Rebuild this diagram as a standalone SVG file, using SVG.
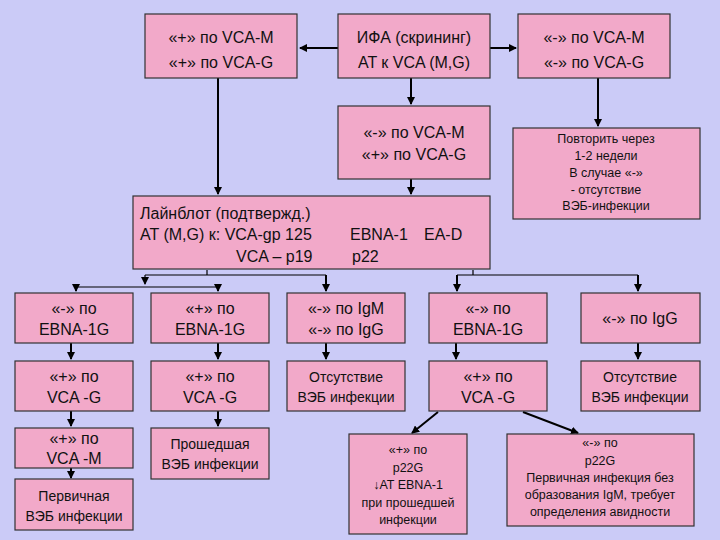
<svg xmlns="http://www.w3.org/2000/svg" width="720" height="540" viewBox="0 0 720 540">
<defs>
<marker id="ar" markerWidth="8" markerHeight="8" refX="7" refY="4" orient="auto" markerUnits="userSpaceOnUse"><path d="M0,0 L8,4 L0,8 Z" fill="#000"/></marker>
<style>
.b{fill:#f2a9c9;stroke:#333;stroke-width:1.2}
text{font-family:"Liberation Sans",Arial,sans-serif;fill:#111;text-anchor:middle}
.l{font-size:16px}.m{font-size:14px}.s{font-size:12.5px}
.c{fill:none;stroke:#000;stroke-width:2}
.t{fill:none;stroke:#000;stroke-width:1.2}
</style>
</defs>
<rect width="720" height="540" fill="#cbcbf7"/>
<g id="connectors">
<path class="c" d="M338,48 H300" marker-end="url(#ar)"/>
<path class="c" d="M490,48 H516" marker-end="url(#ar)"/>
<path class="c" d="M218,78 V194" marker-end="url(#ar)"/>
<path class="c" d="M411,78 V104" marker-end="url(#ar)"/>
<path class="c" d="M411,179 V194" marker-end="url(#ar)"/>
<path class="c" d="M598,78 V126" marker-end="url(#ar)"/>
<path class="t" d="M207,270 V275 M145,275 H326"/>
<path class="t" d="M145,275 V284" marker-end="url(#ar)"/>
<path class="t" d="M76,287 H218"/>
<path class="c" d="M76,287 V291" marker-end="url(#ar)"/>
<path class="c" d="M218,287 V291" marker-end="url(#ar)"/>
<path class="c" d="M326,275 V291" marker-end="url(#ar)"/>
<path class="t" d="M473,270 V275 M457,275 H638"/>
<path class="c" d="M457,275 V291" marker-end="url(#ar)"/>
<path class="c" d="M638,275 V291" marker-end="url(#ar)"/>
<path class="c" d="M71,343 V359" marker-end="url(#ar)"/>
<path class="c" d="M218,343 V359" marker-end="url(#ar)"/>
<path class="c" d="M326,343 V359" marker-end="url(#ar)"/>
<path class="c" d="M456,343 V359" marker-end="url(#ar)"/>
<path class="c" d="M638,343 V359" marker-end="url(#ar)"/>
<path class="c" d="M71,411 V426" marker-end="url(#ar)"/>
<path class="c" d="M218,411 V426" marker-end="url(#ar)"/>
<path class="c" d="M71,468 V478" marker-end="url(#ar)"/>
<path class="c" d="M438,412 L412,433" marker-end="url(#ar)"/>
<path class="c" d="M523,412 L578,433" marker-end="url(#ar)"/>
</g>
<g id="n1"><rect class="b" x="145" y="14" width="152" height="64"/><text class="l" x="221" y="43">«+» по VCA-M</text><text class="l" x="221" y="68">«+» по VCA-G</text></g>
<g id="n2"><rect class="b" x="338" y="14" width="152" height="64"/><text class="l" x="414" y="43">ИФА (скрининг)</text><text class="l" x="414" y="68">AT к VCA (M,G)</text></g>
<g id="n3"><rect class="b" x="518" y="14" width="152" height="64"/><text class="l" x="594" y="43">«-» по VCA-M</text><text class="l" x="594" y="68">«-» по VCA-G</text></g>
<g id="n4"><rect class="b" x="338" y="106" width="152" height="73"/><text class="l" x="414" y="138">«-» по VCA-M</text><text class="l" x="414" y="160">«+» по VCA-G</text></g>
<g id="n5"><rect class="b" x="513" y="128" width="187" height="91"/><text class="s" x="606" y="143">Повторить через</text><text class="s" x="606" y="160">1-2 недели</text><text class="s" x="606" y="177">В случае «-»</text><text class="s" x="606" y="194">- отсутствие</text><text class="s" x="606" y="210">ВЭБ-инфекции</text></g>
<g id="n6"><rect class="b" x="133" y="196" width="357" height="73"/><text class="l" x="140" y="219" style="text-anchor:start">Лайнблот (подтвержд.)</text><text class="l" x="140" y="240" style="text-anchor:start">AT (M,G) к: VCA-gp 125</text><text class="l" x="350" y="240" style="text-anchor:start">EBNA-1</text><text class="l" x="424" y="240" style="text-anchor:start">EA-D</text><text class="l" x="236" y="262" style="text-anchor:start">VCA – p19</text><text class="l" x="352" y="262" style="text-anchor:start">p22</text></g>
<g id="r1a"><rect class="b" x="15" y="293" width="118" height="50"/><text class="l" x="74" y="314">«-» по</text><text class="l" x="74" y="335">EBNA-1G</text></g>
<g id="r1b"><rect class="b" x="151" y="293" width="118" height="50"/><text class="l" x="210" y="314">«+» по</text><text class="l" x="210" y="335">EBNA-1G</text></g>
<g id="r1c"><rect class="b" x="287" y="293" width="118" height="50"/><text class="l" x="346" y="314">«-» по IgM</text><text class="l" x="346" y="335">«-» по IgG</text></g>
<g id="r1d"><rect class="b" x="429" y="293" width="118" height="50"/><text class="l" x="488" y="314">«-» по</text><text class="l" x="488" y="335">EBNA-1G</text></g>
<g id="r1e"><rect class="b" x="581" y="293" width="119" height="50"/><text class="l" x="640" y="324">«-» по IgG</text></g>
<g id="r2a"><rect class="b" x="15" y="361" width="118" height="50"/><text class="l" x="74" y="382">«+» по</text><text class="l" x="74" y="403">VCA -G</text></g>
<g id="r2b"><rect class="b" x="151" y="361" width="118" height="50"/><text class="l" x="210" y="382">«+» по</text><text class="l" x="210" y="403">VCA -G</text></g>
<g id="r2c"><rect class="b" x="287" y="361" width="118" height="50"/><text class="m" x="346" y="382">Отсутствие</text><text class="m" x="346" y="402">ВЭБ инфекции</text></g>
<g id="r2d"><rect class="b" x="429" y="361" width="118" height="50"/><text class="l" x="488" y="382">«+» по</text><text class="l" x="488" y="403">VCA -G</text></g>
<g id="r2e"><rect class="b" x="581" y="361" width="119" height="50"/><text class="m" x="640" y="382">Отсутствие</text><text class="m" x="640" y="402">ВЭБ инфекции</text></g>
<g id="r3a"><rect class="b" x="15" y="428" width="118" height="40"/><text class="l" x="74" y="444">«+» по</text><text class="l" x="74" y="464">VCA -M</text></g>
<g id="r3b"><rect class="b" x="151" y="428" width="118" height="51"/><text class="m" x="210" y="449">Прошедшая</text><text class="m" x="210" y="469">ВЭБ инфекции</text></g>
<g id="r4a"><rect class="b" x="15" y="479" width="118" height="51"/><text class="m" x="74" y="501">Первичная</text><text class="m" x="74" y="521">ВЭБ инфекции</text></g>
<g id="r3d"><rect class="b" x="349" y="434" width="118" height="100"/><text class="s" x="408" y="454">«+» по</text><text class="s" x="408" y="472">p22G</text><text class="s" x="408" y="489">↓AT EBNA-1</text><text class="s" x="408" y="507">при прошедшей</text><text class="s" x="408" y="524">инфекции</text></g>
<g id="r3e"><rect class="b" x="507" y="434" width="187" height="92"/><text class="s" x="600" y="447">«-» по</text><text class="s" x="600" y="465">p22G</text><text class="s" x="600" y="482">Первичная инфекция без</text><text class="s" x="600" y="499">образования IgM, требует</text><text class="s" x="600" y="516">определения авидности</text></g>
</svg>
